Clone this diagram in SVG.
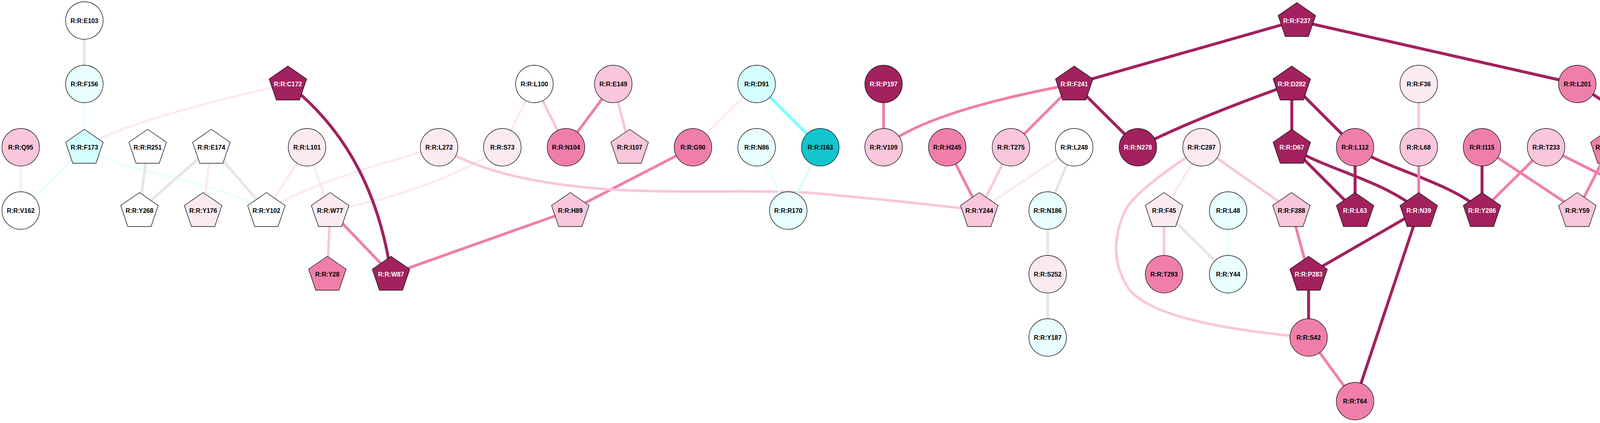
<svg xmlns="http://www.w3.org/2000/svg" xmlns:xlink="http://www.w3.org/1999/xlink" width="4661" height="1083" viewBox="0 0 4661 1083">
<style>
.e{fill:none;stroke-linecap:butt}
.dk{stroke:#A2215E;stroke-width:7.5}
.md{stroke:#F07EAB;stroke-width:7}
.lp{stroke:#F9C6DB;stroke-width:6.5}
.vp{stroke:#FBEAF2;stroke-width:6}
.gr{stroke:#E6E6E6;stroke-width:7}
.vc{stroke:#E9FEFE;stroke-width:6}
.lc{stroke:#D4FEFE;stroke-width:6}
.cy{stroke:#80FFFF;stroke-width:8}
.node circle,.node use{stroke:#111;stroke-width:1.4}
.f-wh{fill:#FFFFFF}.f-vc{fill:#E9FEFE}.f-lc{fill:#D4FEFE}.f-cy{fill:#13C5CF}
.f-vp{fill:#FBEAF2}.f-lp{fill:#F9C6DB}.f-md{fill:#F07EAB}.f-dk{fill:#A2215E}
text{font-family:"Liberation Sans",Arial,sans-serif;font-weight:bold;font-size:16px;text-anchor:middle;fill:#000}
.w text{fill:#FFFFFF}
</style>
<defs>
<polygon id="pent" points="0,-46 48,-12.8 29.7,41 -29.7,41 -48,-12.8"/>
</defs>
<rect width="4661" height="1083" fill="#FFFFFF"/>
<g id="edges">
<line class="e gr" x1="216" y1="52.5" x2="216" y2="215"/>
<line class="e vc" x1="216" y1="215" x2="216" y2="377"/>
<line class="e vc" x1="216" y1="377" x2="53" y2="539"/>
<path class="e vc" d="M216,377 C330,450 520,450 682,539"/>
<line class="e vp" x1="53" y1="377" x2="53" y2="539"/>
<path class="e vp" d="M737,215 Q317,310 216,377"/>
<line class="e gr" x1="378" y1="377" x2="357" y2="539"/>
<line class="e gr" x1="541" y1="377" x2="357" y2="539"/>
<line class="e vp" x1="541" y1="377" x2="520" y2="539"/>
<line class="e gr" x1="541" y1="377" x2="682" y2="539"/>
<line class="e vp" x1="786" y1="377" x2="682" y2="539"/>
<path class="e vp" d="M1124,377 Q789,468 682,539"/>
<line class="e vp" x1="786" y1="377" x2="845" y2="539"/>
<path class="e vp" d="M1286,377 Q1110,490 845,539"/>
<line class="e vp" x1="1368" y1="215" x2="1286" y2="377"/>
<line class="e lp" x1="1368" y1="215" x2="1449" y2="377"/>
<line class="e md" x1="1570" y1="215" x2="1449" y2="377"/>
<line class="e lp" x1="1570" y1="215" x2="1612" y2="377"/>
<line class="e lp" x1="845" y1="539" x2="838" y2="702"/>
<line class="e md" x1="845" y1="539" x2="1001" y2="702"/>
<path class="e dk" d="M737,215 Q955,385 1001,702"/>
<line class="e md" x1="1460" y1="539" x2="1001" y2="702"/>
<line class="e md" x1="1774" y1="377" x2="1460" y2="539"/>
<path class="e lp" d="M1124,377 C1200,420 1300,460 1500,480 S1950,482 2100,496 S2400,525 2507,539"/>
<line class="e vp" x1="1937" y1="215" x2="1774" y2="377"/>
<line class="e cy" x1="1937" y1="215" x2="2100" y2="377"/>
<line class="e vc" x1="1937" y1="377" x2="2018" y2="539"/>
<line class="e lc" x1="2100" y1="377" x2="2018" y2="539"/>
<line class="e md" x1="2262" y1="215" x2="2262" y2="377"/>
<path class="e md" d="M2750,215 Q2371,285 2262,377"/>
<line class="e md" x1="2750" y1="215" x2="2588" y2="377"/>
<line class="e dk" x1="2750" y1="215" x2="2913" y2="377"/>
<line class="e md" x1="2425" y1="377" x2="2507" y2="539"/>
<line class="e lp" x1="2588" y1="377" x2="2507" y2="539"/>
<line class="e vp" x1="2750" y1="377" x2="2507" y2="539"/>
<line class="e gr" x1="2750" y1="377" x2="2682" y2="539"/>
<line class="e gr" x1="2682" y1="539" x2="2682" y2="702"/>
<line class="e gr" x1="2682" y1="702" x2="2682" y2="864"/>
<path class="e lp" d="M3076,377 Q2905,488 2880,540 Q2830,650 2890,740 Q2960,830 3350,864"/>
<line class="e vp" x1="3076" y1="377" x2="2980" y2="539"/>
<line class="e lp" x1="3076" y1="377" x2="3306" y2="539"/>
<line class="e lp" x1="2980" y1="539" x2="2980" y2="702"/>
<line class="e gr" x1="2980" y1="539" x2="3144" y2="702"/>
<line class="e vc" x1="3144" y1="539" x2="3144" y2="702"/>
<line class="e md" x1="3306" y1="539" x2="3350" y2="702"/>
<line class="e dk" x1="3320" y1="52.5" x2="2750" y2="215"/>
<line class="e dk" x1="3320" y1="52.5" x2="4038" y2="215"/>
<path class="e dk" d="M3307,215 Q3054,305 2913,377"/>
<line class="e dk" x1="3307" y1="215" x2="3307" y2="377"/>
<line class="e dk" x1="3307" y1="215" x2="3469" y2="377"/>
<line class="e lp" x1="3632" y1="215" x2="3632" y2="377"/>
<line class="e dk" x1="3307" y1="377" x2="3469" y2="539"/>
<path class="e dk" d="M3307,377 C3380,430 3540,460 3632,539"/>
<line class="e dk" x1="3469" y1="377" x2="3469" y2="539"/>
<path class="e dk" d="M3469,377 C3540,430 3700,460 3794,539"/>
<line class="e md" x1="3632" y1="377" x2="3632" y2="539"/>
<line class="e dk" x1="3794" y1="377" x2="3794" y2="539"/>
<line class="e dk" x1="3632" y1="539" x2="3350" y2="702"/>
<line class="e dk" x1="3632" y1="539" x2="3469" y2="1027"/>
<line class="e dk" x1="3350" y1="702" x2="3350" y2="864"/>
<line class="e md" x1="3350" y1="864" x2="3469" y2="1027"/>
<line class="e md" x1="3794" y1="377" x2="4038" y2="539"/>
<line class="e md" x1="3958" y1="377" x2="3794" y2="539"/>
<line class="e md" x1="3958" y1="377" x2="4282" y2="539"/>
<line class="e md" x1="4120" y1="377" x2="4038" y2="539"/>
<line class="e dk" x1="4038" y1="215" x2="4282" y2="377"/>
<line class="e dk" x1="4282" y1="377" x2="4282" y2="539"/>
<line class="e md" x1="4445" y1="377" x2="4282" y2="539"/>
<line class="e md" x1="4445" y1="377" x2="4445" y2="539"/>
<line class="e md" x1="4445" y1="377" x2="4608" y2="539"/>
<line class="e md" x1="4608" y1="377" x2="4608" y2="539"/>
</g>
<g id="nodes">
<g id="n-E103" class="node" transform="translate(216,52.5)"><circle r="48" class="f-wh"/><text y="6">R:R:E103</text></g>
<g id="n-F237" class="node w" transform="translate(3320,52.5)"><use xlink:href="#pent" href="#pent" class="f-dk"/><text y="6">R:R:F237</text></g>
<g id="n-F156" class="node" transform="translate(216,215)"><circle r="48" class="f-vc"/><text y="6">R:R:F156</text></g>
<g id="n-C172" class="node w" transform="translate(737,215)"><use xlink:href="#pent" href="#pent" class="f-dk"/><text y="6">R:R:C172</text></g>
<g id="n-L100" class="node" transform="translate(1368,215)"><circle r="48" class="f-wh"/><text y="6">R:R:L100</text></g>
<g id="n-E149" class="node" transform="translate(1570,215)"><circle r="48" class="f-lp"/><text y="6">R:R:E149</text></g>
<g id="n-D91" class="node" transform="translate(1937,215)"><circle r="48" class="f-lc"/><text y="6">R:R:D91</text></g>
<g id="n-P197" class="node w" transform="translate(2262,215)"><circle r="48" class="f-dk"/><text y="6">R:R:P197</text></g>
<g id="n-F241" class="node w" transform="translate(2750,215)"><use xlink:href="#pent" href="#pent" class="f-dk"/><text y="6">R:R:F241</text></g>
<g id="n-D282" class="node w" transform="translate(3307,215)"><use xlink:href="#pent" href="#pent" class="f-dk"/><text y="6">R:R:D282</text></g>
<g id="n-F36" class="node" transform="translate(3632,215)"><circle r="48" class="f-vp"/><text y="6">R:R:F36</text></g>
<g id="n-L201" class="node" transform="translate(4038,215)"><circle r="48" class="f-md"/><text y="6">R:R:L201</text></g>

<g id="n-Q95" class="node" transform="translate(53,377)"><circle r="48" class="f-lp"/><text y="6">R:R:Q95</text></g>
<g id="n-F173" class="node" transform="translate(216,377)"><use xlink:href="#pent" href="#pent" class="f-lc"/><text y="6">R:R:F173</text></g>
<g id="n-R251" class="node" transform="translate(378,377)"><use xlink:href="#pent" href="#pent" class="f-wh"/><text y="6">R:R:R251</text></g>
<g id="n-E174" class="node" transform="translate(541,377)"><use xlink:href="#pent" href="#pent" class="f-wh"/><text y="6">R:R:E174</text></g>
<g id="n-L101" class="node" transform="translate(786,377)"><circle r="48" class="f-vp"/><text y="6">R:R:L101</text></g>
<g id="n-L272" class="node" transform="translate(1124,377)"><circle r="48" class="f-vp"/><text y="6">R:R:L272</text></g>
<g id="n-S73" class="node" transform="translate(1286,377)"><circle r="48" class="f-vp"/><text y="6">R:R:S73</text></g>
<g id="n-N104" class="node" transform="translate(1449,377)"><circle r="48" class="f-md"/><text y="6">R:R:N104</text></g>
<g id="n-I107" class="node" transform="translate(1612,377)"><use xlink:href="#pent" href="#pent" class="f-lp"/><text y="6">R:R:I107</text></g>
<g id="n-G90" class="node" transform="translate(1774,377)"><circle r="48" class="f-md"/><text y="6">R:R:G90</text></g>
<g id="n-N86" class="node" transform="translate(1937,377)"><circle r="48" class="f-vc"/><text y="6">R:R:N86</text></g>
<g id="n-I163" class="node" transform="translate(2100,377)"><circle r="48" class="f-cy"/><text y="6">R:R:I163</text></g>
<g id="n-V109" class="node" transform="translate(2262,377)"><circle r="48" class="f-lp"/><text y="6">R:R:V109</text></g>
<g id="n-H245" class="node" transform="translate(2425,377)"><circle r="48" class="f-md"/><text y="6">R:R:H245</text></g>
<g id="n-T275" class="node" transform="translate(2588,377)"><circle r="48" class="f-lp"/><text y="6">R:R:T275</text></g>
<g id="n-L248" class="node" transform="translate(2750,377)"><circle r="48" class="f-wh"/><text y="6">R:R:L248</text></g>
<g id="n-N278" class="node w" transform="translate(2913,377)"><circle r="48" class="f-dk"/><text y="6">R:R:N278</text></g>
<g id="n-C287" class="node" transform="translate(3076,377)"><circle r="48" class="f-vp"/><text y="6">R:R:C287</text></g>
<g id="n-D67" class="node w" transform="translate(3307,377)"><use xlink:href="#pent" href="#pent" class="f-dk"/><text y="6">R:R:D67</text></g>
<g id="n-L112" class="node" transform="translate(3469,377)"><circle r="48" class="f-md"/><text y="6">R:R:L112</text></g>
<g id="n-L68" class="node" transform="translate(3632,377)"><circle r="48" class="f-lp"/><text y="6">R:R:L68</text></g>
<g id="n-I115" class="node" transform="translate(3794,377)"><circle r="48" class="f-md"/><text y="6">R:R:I115</text></g>
<g id="n-T233" class="node" transform="translate(3958,377)"><circle r="48" class="f-lp"/><text y="6">R:R:T233</text></g>
<g id="n-D118" class="node" transform="translate(4120,377)"><use xlink:href="#pent" href="#pent" class="f-md"/><text y="6">R:R:D118</text></g>
<g id="n-S116" class="node w" transform="translate(4282,377)"><circle r="48" class="f-dk"/><text y="6">R:R:S116</text></g>
<g id="n-I208" class="node" transform="translate(4445,377)"><use xlink:href="#pent" href="#pent" class="f-md"/><text y="6">R:R:I208</text></g>
<g id="n-K223" class="node" transform="translate(4608,377)"><circle r="48" class="f-lp"/><text y="6">R:R:K223</text></g>

<g id="n-V162" class="node" transform="translate(53,539)"><circle r="48" class="f-wh"/><text y="6">R:R:V162</text></g>
<g id="n-Y268" class="node" transform="translate(357,539)"><use xlink:href="#pent" href="#pent" class="f-wh"/><text y="6">R:R:Y268</text></g>
<g id="n-Y176" class="node" transform="translate(520,539)"><use xlink:href="#pent" href="#pent" class="f-vp"/><text y="6">R:R:Y176</text></g>
<g id="n-Y102" class="node" transform="translate(682,539)"><use xlink:href="#pent" href="#pent" class="f-wh"/><text y="6">R:R:Y102</text></g>
<g id="n-W77" class="node" transform="translate(845,539)"><use xlink:href="#pent" href="#pent" class="f-vp"/><text y="6">R:R:W77</text></g>
<g id="n-H89" class="node" transform="translate(1460,539)"><use xlink:href="#pent" href="#pent" class="f-lp"/><text y="6">R:R:H89</text></g>
<g id="n-R170" class="node" transform="translate(2018,539)"><circle r="48" class="f-vc"/><text y="6">R:R:R170</text></g>
<g id="n-Y244" class="node" transform="translate(2507,539)"><use xlink:href="#pent" href="#pent" class="f-lp"/><text y="6">R:R:Y244</text></g>
<g id="n-N186" class="node" transform="translate(2682,539)"><circle r="48" class="f-vc"/><text y="6">R:R:N186</text></g>
<g id="n-F45" class="node" transform="translate(2980,539)"><use xlink:href="#pent" href="#pent" class="f-vp"/><text y="6">R:R:F45</text></g>
<g id="n-L48" class="node" transform="translate(3144,539)"><circle r="48" class="f-vc"/><text y="6">R:R:L48</text></g>
<g id="n-F288" class="node" transform="translate(3306,539)"><use xlink:href="#pent" href="#pent" class="f-lp"/><text y="6">R:R:F288</text></g>
<g id="n-L63" class="node w" transform="translate(3469,539)"><use xlink:href="#pent" href="#pent" class="f-dk"/><text y="6">R:R:L63</text></g>
<g id="n-N39" class="node w" transform="translate(3632,539)"><use xlink:href="#pent" href="#pent" class="f-dk"/><text y="6">R:R:N39</text></g>
<g id="n-Y286" class="node w" transform="translate(3794,539)"><use xlink:href="#pent" href="#pent" class="f-dk"/><text y="6">R:R:Y286</text></g>
<g id="n-Y59" class="node" transform="translate(4038,539)"><use xlink:href="#pent" href="#pent" class="f-lp"/><text y="6">R:R:Y59</text></g>
<g id="n-Y205" class="node" transform="translate(4282,539)"><use xlink:href="#pent" href="#pent" class="f-md"/><text y="6">R:R:Y205</text></g>
<g id="n-Y120" class="node" transform="translate(4445,539)"><use xlink:href="#pent" href="#pent" class="f-md"/><text y="6">R:R:Y120</text></g>
<g id="n-V212" class="node" transform="translate(4608,539)"><use xlink:href="#pent" href="#pent" class="f-md"/><text y="6">R:R:V212</text></g>

<g id="n-Y28" class="node" transform="translate(838,702)"><use xlink:href="#pent" href="#pent" class="f-md"/><text y="6">R:R:Y28</text></g>
<g id="n-W87" class="node w" transform="translate(1001,702)"><use xlink:href="#pent" href="#pent" class="f-dk"/><text y="6">R:R:W87</text></g>
<g id="n-S252" class="node" transform="translate(2682,702)"><circle r="48" class="f-vp"/><text y="6">R:R:S252</text></g>
<g id="n-T293" class="node" transform="translate(2980,702)"><circle r="48" class="f-md"/><text y="6">R:R:T293</text></g>
<g id="n-Y44" class="node" transform="translate(3144,702)"><circle r="48" class="f-vc"/><text y="6">R:R:Y44</text></g>
<g id="n-P283" class="node w" transform="translate(3350,702)"><use xlink:href="#pent" href="#pent" class="f-dk"/><text y="6">R:R:P283</text></g>

<g id="n-Y187" class="node" transform="translate(2682,864)"><circle r="48" class="f-vc"/><text y="6">R:R:Y187</text></g>
<g id="n-S42" class="node" transform="translate(3350,864)"><circle r="48" class="f-md"/><text y="6">R:R:S42</text></g>
<g id="n-T64" class="node" transform="translate(3469,1027)"><circle r="48" class="f-md"/><text y="6">R:R:T64</text></g>
</g>
</svg>
